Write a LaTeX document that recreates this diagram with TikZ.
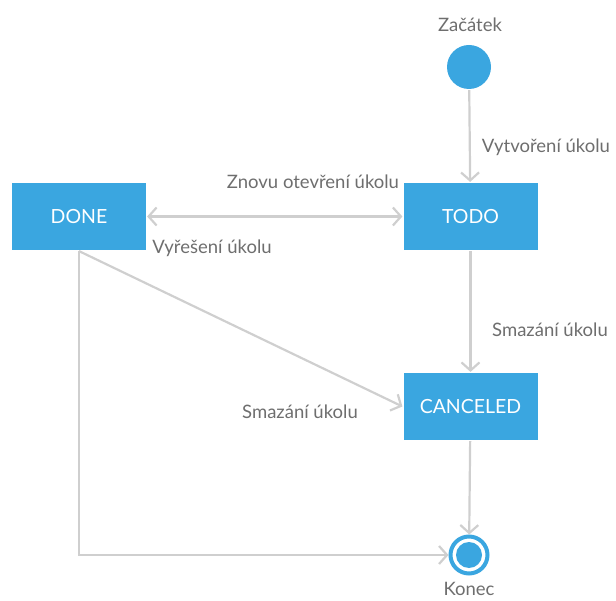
\documentclass[tikz,border=0pt]{standalone}
\usepackage{fontspec}
\setmainfont{Lato}
\usetikzlibrary{arrows.meta,positioning}
\definecolor{stateblue}{HTML}{3AA6E0}
\definecolor{edgegray}{HTML}{CFCFCF}
\definecolor{labelgray}{HTML}{6E6E6E}
\begin{document}
\begin{tikzpicture}[x=1pt, y=-1pt, line width=2.2pt, >={Straight Barb[length=8pt,width=18pt]},
state node/.style={rectangle,fill=stateblue,text=white,minimum width=134pt,minimum height=67pt,inner sep=0pt,font=\fontsize{19.5}{23}\selectfont},
label node/.style={text=labelgray,inner sep=1pt,font=\fontsize{18.5}{22}\selectfont},
start node/.style={circle,fill=stateblue,minimum size=44pt,inner sep=0pt},
end node/.style={circle,draw=stateblue,line width=4pt,fill=white,minimum size=37pt,inner sep=0pt}]
\useasboundingbox (0,0) rectangle (616,601);
\begin{scope}
\node[start node] (start) at (469,67) {};
\node[state node] (done) at (79,216.5) {DONE};
\node[state node] (todo) at (470.5,216.5) {TODO};
\node[state node] (canceled) at (470.5,406.5) {CANCELED};
\node[end node] (end) at (469,555) {};
\fill[stateblue] (end) circle (13);
\end{scope}
\begin{scope}
\node[label node] (lstart) at (470,25) {Začátek};
\node[label node] (lend) at (469,589) {Konec};
\node[label node] (lcreate) at (546,147) {Vytvoření úkolu};
\node[label node] (lreopen) at (313,182) {Znovu otevření úkolu};
\node[label node] (lsolve) at (212,248) {Vyřešení úkolu};
\node[label node] (ldelete) at (550,330) {Smazání úkolu};
\node[label node] (ldeletedone) at (300,412) {Smazání úkolu};
\end{scope}
\begin{scope}[edgegray]
\draw[->] (start) -- (todo);
\draw[<->] (done) -- (todo);
\draw[->] (todo) -- (canceled);
\draw[->] (done.south) -- (canceled.west);
\draw[->] (canceled) -- (end);
\draw[->] (done.south) |- (end.west);
\end{scope}
\end{tikzpicture}
\end{document}
